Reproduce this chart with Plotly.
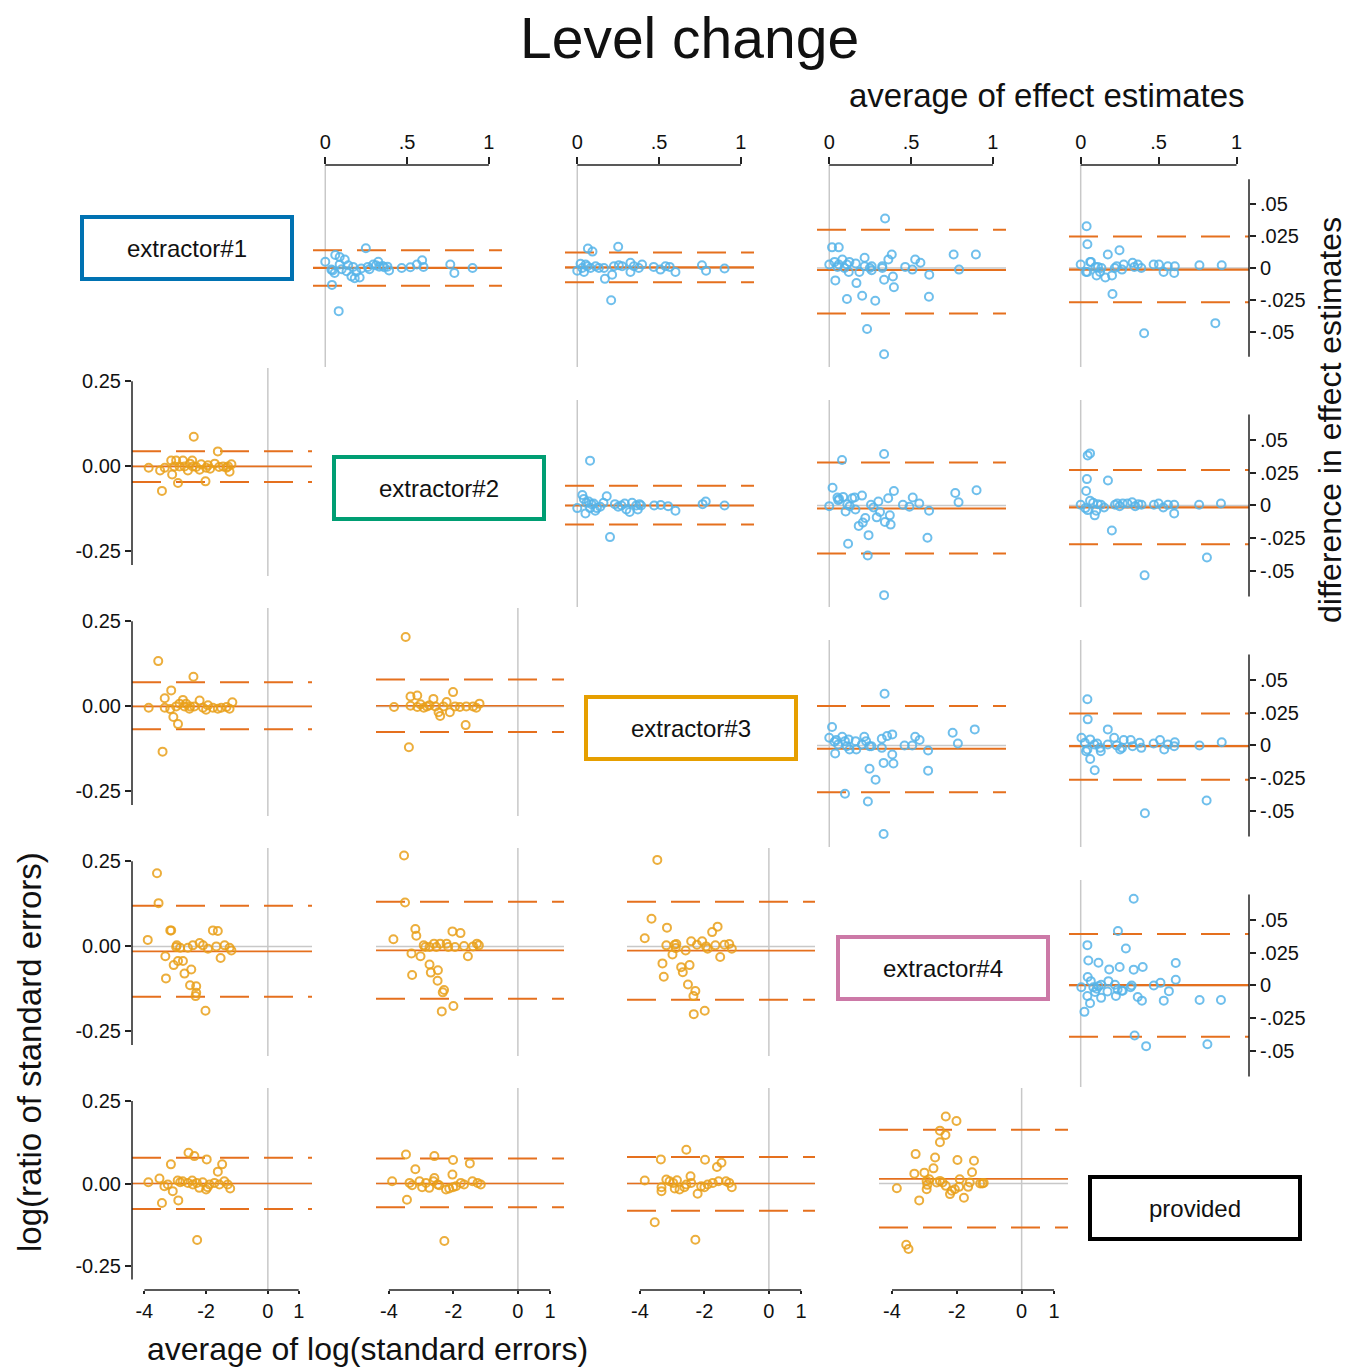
import plotly.graph_objects as go

W, H = 1349, 1369

# ---------------- data: upper panels (difference vs average of effect estimates) ----------------
U01 = [(0, .0048), (.037, -.0013), (.045, -.002), (.057, -.004), (.061, .010), (.088, .0085), (.119, .0066),
       (.088, .0026), (.10, -.001), (.17, .0008), (.16, -.0066), (.18, -.008), (.21, -.0074), (.19, -.003),
       (.22, -.0005), (.248, .0153), (.26, .0008), (.27, -.001), (.293, .0026), (.324, .0048), (.33, .001),
       (.35, .0015), (.38, .001), (.39, -.002), (.467, 0), (.52, .0005), (.56, .0026), (.592, .006), (.60, .0008),
       (.764, .0026), (.789, -.004), (.90, 0), (.041, -.0132), (.082, -.0336), (.13, -.0025), (.14, .002),
       (.31, .002), (.36, .0005)]
U01_LINES = [0.0, -0.0138, 0.0138]

U02 = [(.065, .0151), (.093, .0127), (.250, .0164), (.020, .0032), (.030, 0), (.041, -.0032), (.061, .0013),
       (.081, 0), (.112, .0013), (.132, 0), (.163, 0), (.169, -.0085), (.213, -.0053), (.207, -.0251),
       (.224, .0013), (.254, .0021), (.274, .0013), (.325, .004), (.325, -.0032), (.346, .0013), (.376, 0),
       (.396, .0026), (.467, .0008), (.508, -.0013), (.539, .0013), (.565, .0008), (.600, -.0032), (.762, .0021),
       (.787, -.0021), (.900, -.0005), (0, -.0021), (.051, .0026)]
U02_LINES = [0.0005, -0.0111, 0.0119]

U03 = [(0, .0026), (.017, .016), (.058, .016), (.032, .0047), (.037, -.0097), (.05, .0008), (.058, .0026),
       (.08, .0066), (.093, 0), (.108, .0026), (.119, -.0032), (.108, -.0242), (.123, .0047), (.162, .0034),
       (.166, -.0118), (.184, -.0032), (.201, -.0216), (.216, .0079), (.216, .0013), (.231, -.0474), (.248, 0),
       (.259, .0013), (.259, -.0018), (.281, -.0255), (.324, .0013), (.324, 0), (.335, -.0092), (.341, .0384),
       (.335, -.0671), (.361, .0066), (.382, .0105), (.389, -.0066), (.395, -.015), (.464, .0008), (.508, -.0013),
       (.525, .0066), (.557, .004), (.611, -.0053), (.609, -.0224), (.760, .0105), (.793, -.0013), (.896, .0105)]
U03_LINES = [-0.0016, -0.0355, 0.0297]

U04 = [(0, .0026), (.038, .0324), (.043, .0184), (.034, -.0032), (.043, -.0032), (.061, .0047), (.066, .0047),
       (.095, .0008), (.102, -.0058), (.111, .0008), (.124, -.0032), (.133, 0), (.158, -.0074), (.174, .0105),
       (.201, -.0058), (.204, -.0203), (.219, 0), (.231, .0013), (.249, .0137), (.265, -.0013), (.276, .0026),
       (.333, .004), (.344, .0008), (.367, .0026), (.389, 0), (.468, .0026), (.502, .0026), (.532, -.0032),
       (.559, .0013), (.604, .0013), (.600, -.004), (.762, .0021), (.905, .0021), (.407, -.0508), (.864, -.0429)]
U04_LINES = [-0.0013, -0.0266, 0.0245]

U12 = [(.078, .034), (0, -.002), (.031, .008), (.04, .005), (.056, .002), (.07, .003), (.078, -.002),
       (.087, .001), (.10, .0015), (.11, -.004), (.12, -.002), (.18, .007), (.2, -.024), (.23, .001),
       (.25, -.001), (.27, 0), (.29, .0015), (.30, -.003), (.32, -.005), (.335, .002), (.36, 0), (.37, -.003),
       (.38, .001), (.39, 0), (.47, 0), (.51, .0003), (.555, -.0005), (.60, -.004), (.766, .001), (.785, .003),
       (.90, 0), (.05, -.006), (.14, -.001), (.16, .002)]
U12_LINES = [0.0, -0.0145, 0.015]

U13 = [(0, -.0005), (.02, .0135), (.05, .006), (.055, .004), (.06, .005), (.078, .0345), (.085, .0065),
       (.10, -.0045), (.11, .001), (.115, -.029), (.125, -.0005), (.14, .0055), (.155, .006), (.16, -.003),
       (.18, -.0155), (.2, .0075), (.205, -.013), (.22, -.0095), (.235, -.038), (.24, -.0225), (.255, .0005),
       (.27, -.0015), (.29, -.009), (.3, .003), (.31, -.005), (.335, .039), (.335, -.068), (.34, -.0125),
       (.36, .0055), (.37, -.0075), (.375, -.0145), (.395, .011), (.45, .0005), (.49, -.001), (.51, .006),
       (.55, .0015), (.61, -.004), (.6, -.0245), (.77, .0095), (.79, .0025), (.9, .0115)]
U13_LINES = [-0.0023, -0.0364, 0.0326]

U14 = [(0, .0005), (.045, .038), (.06, .0395), (.04, .02), (.035, .011), (.03, -.002), (.045, -.0035),
       (.06, .0035), (.08, .002), (.09, -.0075), (.1, -.004), (.11, .001), (.13, .0005), (.15, -.0015),
       (.175, .019), (.2, -.019), (.22, .0005), (.235, .0015), (.25, -.0005), (.27, .0015), (.3, .0015),
       (.33, .0025), (.35, -.0005), (.37, .001), (.39, .0005), (.41, -.053), (.47, .0005), (.5, .0015),
       (.53, -.0015), (.56, .0005), (.6, -.006), (.6, .0005), (.76, .0005), (.81, -.0395), (.9, .0015)]
U14_LINES = [-0.0015, -0.0295, 0.027]

U23 = [(.338, .0392), (.017, .014), (0, .0059), (.032, .0028), (.043, .0041), (.054, .0008), (.036, -.0061),
       (.079, .0066), (.096, .0033), (.107, -.0005), (.118, .0046), (.124, -.0031), (.161, .0033),
       (.165, -.0031), (.199, .0008), (.214, .0066), (.225, .0033), (.246, -.0005), (.257, -.0005),
       (.246, -.0176), (.283, -.026), (.236, -.0425), (.096, -.0366), (.321, -.0018), (.332, -.0132),
       (.321, .0051), (.353, .0071), (.385, .0084), (.385, -.0069), (.392, -.0137), (.46, 0), (.507, 0),
       (.525, .0066), (.552, .0041), (.604, -.0038), (.604, -.0191), (.754, .0097), (.786, .0015),
       (.889, .0122), (.332, -.0672)]
U23_LINES = [-0.0025, -0.0354, 0.030]

U24 = [(.043, .0351), (.045, .0198), (.005, .0059), (.027, .002), (.061, .0046), (.034, -.0043),
       (.043, -.0031), (.061, -.0102), (.09, -.0188), (.088, .0008), (.106, .0015), (.124, -.0018),
       (.129, -.0043), (.174, .0122), (.174, .0008), (.215, .0059), (.231, 0), (.253, -.0031), (.265, -.0018),
       (.276, .0041), (.321, .0041), (.333, -.0005), (.378, .002), (.389, -.0018), (.468, .0015), (.509, .0041),
       (.536, -.0031), (.559, .0008), (.6, -.0005), (.604, .0025), (.762, 0), (.905, .0025), (.412, -.0514),
       (.808, -.0417)]
U24_LINES = [-0.0005, -0.026, 0.0242]

U34 = [(.34, .0658), (.239, .0413), (.043, .0306), (.29, .028), (.049, .0189), (.114, .0173), (.183, .0122),
       (.25, .014), (.34, .012), (.398, .014), (.61, .017), (.045, .0064), (.065, .0033), (.61, .0043),
       (.512, .002), (.469, 0), (.004, -.0013), (.092, -.005), (.114, -.0005), (.131, .0005), (.178, .0033),
       (.22, .0005), (.237, -.003), (.172, -.0046), (.131, -.0094), (.043, -.008), (.06, -.0135), (.024, -.02),
       (.226, -.008), (.264, -.004), (.27, -.004), (.32, -.0013), (.327, 0), (.366, -.0087), (.393, -.0115),
       (.533, -.0115), (.566, -.0043), (.763, -.011), (.9, -.011), (.346, -.038), (.42, -.046), (.813, -.0446),
       (.081, -.0013), (.103, -.0025)]
U34_LINES = [0.0003, -0.0388, 0.039]

# ---------------- data: lower panels (log ratio vs average of log standard errors) ----------------
L10 = [(-2.40, .087), (-1.62, .044), (-3.86, -.004), (-3.49, -.012), (-3.43, -.072), (-3.34, -.004),
       (-3.13, .017), (-3.10, -.024), (-2.97, .017), (-2.91, -.049), (-2.86, 0), (-2.75, .017), (-2.70, 0),
       (-2.59, -.012), (-2.45, .017), (-2.43, 0), (-2.32, -.002), (-2.16, .006), (-2.02, -.044), (-2.0, -.004),
       (-1.94, .003), (-1.87, -.007), (-1.72, .008), (-1.58, -.002), (-1.45, 0), (-1.34, -.004), (-1.24, -.016),
       (-1.18, .006), (-1.29, 0), (-3.03, 0), (-2.52, .008), (-2.21, -.01)]
L10_LINES = [0.0, -0.0456, 0.0447]

L20 = [(-3.55, .133), (-3.41, -.133), (-3.86, -.004), (-3.34, .024), (-3.13, .047), (-3.34, -.004),
       (-3.16, -.008), (-3.06, -.031), (-2.91, -.052), (-2.97, 0), (-2.86, .008), (-2.75, .019), (-2.65, .008),
       (-2.54, -.007), (-2.41, .087), (-2.38, 0), (-2.21, .017), (-2.10, -.004), (-2.0, -.01), (-1.94, .003),
       (-1.78, -.004), (-1.62, -.007), (-1.51, -.004), (-1.34, -.002), (-1.24, -.007), (-1.15, .012),
       (-2.52, 0), (-2.70, 0)]
L20_LINES = [0.0, -0.067, 0.071]

L21 = [(-3.48, .204), (-3.38, -.120), (-3.84, -.002), (-3.33, .029), (-3.12, .032), (-3.33, .002),
       (-3.12, -.002), (-2.92, -.004), (-2.82, 0), (-2.62, .022), (-2.56, 0), (-2.46, -.017), (-2.41, -.028),
       (-2.21, .013), (-2.11, -.017), (-2.01, .042), (-1.95, 0), (-1.80, -.002), (-1.62, -.055), (-1.60, 0),
       (-1.39, 0), (-1.19, .008), (-1.29, -.004), (-2.74, .003), (-2.31, 0), (-3.02, .006)]
L21_LINES = [0.002, -0.075, 0.079]

L30 = [(-3.59, .215), (-3.54, .127), (-3.89, .019), (-3.32, -.029), (-3.30, -.094), (-3.16, .047),
       (-3.13, .047), (-3.05, -.055), (-2.95, .003), (-2.91, -.043), (-2.75, -.043), (-2.70, -.080),
       (-2.59, -.004), (-2.48, -.068), (-2.52, -.114), (-2.43, .003), (-2.32, -.117), (-2.32, -.136),
       (-2.34, -.146), (-2.21, .010), (-2.10, .003), (-2.02, -.189), (-1.94, -.007), (-1.78, .047),
       (-1.62, .045), (-1.67, 0), (-1.53, -.034), (-1.40, .003), (-1.24, -.004), (-1.18, -.012), (-2.97, -.002),
       (-2.84, -.004)]
L30_LINES = [-0.0146, -0.148, 0.119]

L31 = [(-3.53, .267), (-3.50, .129), (-3.86, .021), (-3.18, .051), (-3.15, .031), (-3.30, -.021),
       (-3.28, -.084), (-3.02, -.029), (-2.92, .003), (-2.87, -.002), (-2.74, -.053), (-2.70, -.077),
       (-2.60, .008), (-2.53, -.002), (-2.48, -.07), (-2.49, -.101), (-2.41, .008), (-2.33, -.135),
       (-2.29, -.128), (-2.36, -.191), (-2.21, .008), (-2.03, .044), (-2.0, -.175), (-1.95, -.002),
       (-1.78, .039), (-1.67, .001), (-1.55, -.029), (-1.39, 0), (-1.27, .008), (-1.21, .003), (-2.74, -.002),
       (-2.16, -.002)]
L31_LINES = [-0.0117, -0.154, 0.131]

L32 = [(-3.46, .254), (-3.64, .081), (-3.16, .055), (-3.85, .024), (-3.18, .003), (-3.30, -.05),
       (-3.26, -.089), (-2.99, -.024), (-2.92, .005), (-2.87, .007), (-2.89, -.005), (-2.72, -.061),
       (-2.67, -.076), (-2.58, -.012), (-2.51, -.112), (-2.46, -.055), (-2.41, .015), (-2.34, -.146),
       (-2.28, -.131), (-2.33, -.199), (-2.23, .005), (-2.07, .015), (-1.99, -.189), (-1.95, 0), (-1.90, -.007),
       (-1.76, .042), (-1.59, .058), (-1.66, .003), (-1.51, -.031), (-1.38, .005), (-1.23, .007), (-1.15, -.007)]
L32_LINES = [-0.0126, -0.157, 0.131]

L40 = [(-2.57, .093), (-2.38, .083), (-1.98, .073), (-3.14, .058), (-1.48, .058), (-1.62, .036),
       (-3.87, .004), (-3.51, .015), (-3.43, -.059), (-3.35, -.008), (-3.08, -.023), (-2.92, .009),
       (-2.90, -.051), (-2.84, .004), (-2.76, .007), (-2.59, .002), (-2.45, .009), (-2.43, -.003), (-2.30, .002),
       (-2.22, -.013), (-2.11, .004), (-2.0, -.018), (-1.95, -.011), (-1.89, -.003), (-1.73, .002),
       (-1.57, -.003), (-1.41, .007), (-1.30, -.003), (-1.22, -.015), (-2.29, -.171), (-3.24, -.003)]
L40_LINES = [0.0, -0.077, 0.078]

L41 = [(-3.47, .088), (-2.59, .083), (-2.01, .071), (-1.49, .061), (-3.18, .043), (-2.03, .027),
       (-3.90, .007), (-3.44, -.049), (-3.36, .002), (-3.28, -.005), (-3.05, .007), (-2.97, -.011),
       (-2.85, .002), (-2.75, -.013), (-2.62, .007), (-2.59, .017), (-2.49, -.003), (-2.44, -.005),
       (-2.23, -.018), (-2.13, -.015), (-2.01, -.011), (-1.92, -.008), (-1.77, .002), (-1.67, -.003),
       (-1.41, .007), (-1.25, .002), (-1.15, -.003), (-2.28, -.174)]
L41_LINES = [0.0, -0.072, 0.076]

L42 = [(-2.56, .102), (-3.35, .073), (-1.98, .072), (-1.47, .063), (-1.61, .050), (-3.85, .009),
       (-3.54, -.117), (-2.28, -.170), (-3.33, -.011), (-3.33, -.023), (-3.18, .012), (-3.08, .007),
       (-2.97, .002), (-2.92, -.015), (-2.85, .010), (-2.77, -.018), (-2.62, -.011), (-2.56, -.003),
       (-2.43, .022), (-2.41, .002), (-2.21, -.031), (-2.10, -.008), (-2.0, -.011), (-1.90, -.003),
       (-1.74, .002), (-1.56, .007), (-1.33, .007), (-1.23, .002), (-1.15, -.011)]
L42_LINES = [0.0, -0.082, 0.080]

L43 = [(-2.34, .203), (-2.01, .189), (-2.52, .160), (-2.35, .147), (-2.52, .125), (-3.27, .089),
       (-2.67, .079), (-1.98, .071), (-1.47, .069), (-2.72, .046), (-1.53, .034), (-3.31, .030), (-3.0, .033),
       (-3.85, -.014), (-3.16, -.051), (-3.56, -.185), (-3.49, -.198), (-2.93, .008), (-2.91, -.004),
       (-2.93, -.017), (-2.85, .013), (-2.62, .003), (-2.52, .008), (-2.44, .003), (-2.34, -.007),
       (-2.21, -.032), (-2.16, -.022), (-2.06, -.017), (-1.93, -.01), (-1.91, .013), (-1.78, -.043),
       (-1.65, -.01), (-1.60, .003), (-1.28, 0), (-1.21, 0), (-1.17, .002)]
L43_LINES = [0.014, -0.133, 0.163]

# labels / ticks
DIAG_LABELS = ["extractor#1", "extractor#2", "extractor#3", "extractor#4", "provided"]
DIAG_COLORS = ["#0072B2", "#009E73", "#E69F00", "#CC79A7", "#000000"]
TOP_TICKS = [0, 0.5, 1]
TOP_TICKTEXT = ["0", ".5", "1"]
RIGHT_TICKS = [0.05, 0.025, 0, -0.025, -0.05]
RIGHT_TICKTEXT = [".05", ".025", "0", "-.025", "-.05"]
LEFT_TICKS = [0.25, 0, -0.25]
LEFT_TICKTEXT = ["0.25", "0.00", "-0.25"]
BOTTOM_TICKS = [-4, -2, 0, 1]
BOTTOM_TICKTEXT = ["-4", "-2", "0", "1"]

UPPER = {(0, 1): (U01, U01_LINES), (0, 2): (U02, U02_LINES), (0, 3): (U03, U03_LINES), (0, 4): (U04, U04_LINES),
         (1, 2): (U12, U12_LINES), (1, 3): (U13, U13_LINES), (1, 4): (U14, U14_LINES),
         (2, 3): (U23, U23_LINES), (2, 4): (U24, U24_LINES), (3, 4): (U34, U34_LINES)}
LOWER = {(1, 0): (L10, L10_LINES), (2, 0): (L20, L20_LINES), (2, 1): (L21, L21_LINES),
         (3, 0): (L30, L30_LINES), (3, 1): (L31, L31_LINES), (3, 2): (L32, L32_LINES),
         (4, 0): (L40, L40_LINES), (4, 1): (L41, L41_LINES), (4, 2): (L42, L42_LINES), (4, 3): (L43, L43_LINES)}

# ---------------- layout geometry (pixels) ----------------
LOW_COLS = {0: (132, 312), 1: (376, 564), 2: (627, 815), 3: (879, 1068)}
LOW_ROWS = {1: (368, 576), 2: (608, 816), 3: (848, 1056), 4: (1088, 1290)}
UP_COLS = {1: (313, 502), 2: (565, 754), 3: (817, 1006), 4: (1069, 1249)}
UP_ROWS = {0: (165, 367), 1: (400, 607), 2: (640, 847), 3: (880, 1087)}
UP_XR = [-0.075, 1.08]
UP_YR = [-0.077, 0.080]
LO_XR = [-4.4, 1.43]
LO_YR = [-0.322, 0.289]

BLUE = "#56B4E9"
OPT = "#E9A01A"
LINE = "#E5701E"
GRAY = "#C8C8C8"
AXC = "#222222"
FONT = "Liberation Sans, Arial, sans-serif"


def fx(p):
    return p / W


def fy(p):
    return 1 - p / H


fig = go.Figure()
layout = dict(width=W, height=H, margin=dict(l=0, r=0, t=0, b=0), paper_bgcolor="white",
              plot_bgcolor="white", showlegend=False, font=dict(family=FONT, color="#111"))
shapes = []
annotations = []

k = 0
panels = [("u", key, val) for key, val in UPPER.items()] + [("l", key, val) for key, val in LOWER.items()]
for kind, (r, c), (pts, lines) in panels:
    k += 1
    xn = "x" if k == 1 else f"x{k}"
    yn = "y" if k == 1 else f"y{k}"
    xa = "xaxis" if k == 1 else f"xaxis{k}"
    ya = "yaxis" if k == 1 else f"yaxis{k}"
    if kind == "u":
        cx, ry, xr, yr, col = UP_COLS[c], UP_ROWS[r], UP_XR, UP_YR, BLUE
    else:
        cx, ry, xr, yr, col = LOW_COLS[c], LOW_ROWS[r], LO_XR, LO_YR, OPT
    xax = dict(domain=[fx(cx[0]), fx(cx[1])], range=xr, anchor=yn, showgrid=False, zeroline=False,
               showline=False, ticks="", showticklabels=False, fixedrange=True)
    yax = dict(domain=[fy(ry[1]), fy(ry[0])], range=yr, anchor=xn, showgrid=False, zeroline=False,
               showline=False, ticks="", showticklabels=False, fixedrange=True)
    tick_common = dict(ticks="outside", tickwidth=1.5, tickcolor=AXC, showticklabels=True,
                       tickfont=dict(size=20, family=FONT, color="#111"))
    if kind == "u" and r == 0:
        xax.update(side="top", tickvals=TOP_TICKS, ticktext=TOP_TICKTEXT, ticklen=7, **tick_common)
        shapes.append(dict(type="line", xref=xn, yref=f"{yn} domain", x0=0, x1=1, y0=1, y1=1,
                           line=dict(color=AXC, width=1.5)))
    if kind == "u" and c == 4:
        yax.update(side="right", tickvals=RIGHT_TICKS, ticktext=RIGHT_TICKTEXT, ticklen=6, **tick_common)
        shapes.append(dict(type="line", xref=f"{xn} domain", yref=yn, x0=1, x1=1, y0=-0.069, y1=0.069,
                           line=dict(color=AXC, width=1.5)))
    if kind == "l" and c == 0:
        yax.update(side="left", tickvals=LEFT_TICKS, ticktext=LEFT_TICKTEXT, ticklen=6, **tick_common)
        shapes.append(dict(type="line", xref=f"{xn} domain", yref=yn, x0=0, x1=0, y0=-0.29, y1=0.25,
                           line=dict(color=AXC, width=1.5)))
    if kind == "l" and r == 4:
        xax.update(side="bottom", tickvals=BOTTOM_TICKS, ticktext=BOTTOM_TICKTEXT, ticklen=3, **tick_common)
        shapes.append(dict(type="line", xref=xn, yref=f"{yn} domain", x0=-4, x1=1, y0=0, y1=0,
                           line=dict(color=AXC, width=1.5)))
    layout[xa] = xax
    layout[ya] = yax

    # reference lines (zero lines, mean, limits of agreement)
    shapes.append(dict(type="line", xref=xn, yref=f"{yn} domain", x0=0, x1=0, y0=0, y1=1, layer="below",
                       line=dict(color=GRAY, width=1.5)))
    shapes.append(dict(type="line", xref=f"{xn} domain", yref=yn, x0=0, x1=1, y0=0, y1=0, layer="below",
                       line=dict(color=GRAY, width=1.5)))
    mean, lo, hi = lines
    lw = 2.2 if kind == "u" else 1.6
    shapes.append(dict(type="line", xref=f"{xn} domain", yref=yn, x0=0, x1=1, y0=mean, y1=mean, layer="below",
                       line=dict(color=LINE, width=lw)))
    for v in (lo, hi):
        shapes.append(dict(type="line", xref=f"{xn} domain", yref=yn, x0=0, x1=1, y0=v, y1=v, layer="below",
                           line=dict(color=LINE, width=2, dash="29px,15px")))

    fig.add_trace(go.Scatter(x=[p[0] for p in pts], y=[p[1] for p in pts], mode="markers", xaxis=xn, yaxis=yn,
                             marker=dict(symbol="circle-open", size=8, color=col, opacity=0.85,
                                         line=dict(width=2, color=col)),
                             hoverinfo="x+y"))

# diagonal label boxes
for i, (lab, colr) in enumerate(zip(DIAG_LABELS, DIAG_COLORS)):
    x0, x1 = 82 + 252 * i, 292 + 252 * i
    y0, y1 = 217 + 240 * i, 279 + 240 * i
    shapes.append(dict(type="rect", xref="paper", yref="paper", x0=fx(x0), x1=fx(x1), y0=fy(y1), y1=fy(y0),
                       line=dict(color=colr, width=4), fillcolor="white"))
    annotations.append(dict(text=lab, xref="paper", yref="paper", x=fx((x0 + x1) / 2), y=fy((y0 + y1) / 2),
                            xanchor="center", yanchor="middle", showarrow=False,
                            font=dict(size=24, family=FONT, color="#111")))

# titles
annotations += [
    dict(text="Level change", x=fx(689), y=fy(38), font=dict(size=57, family=FONT, color="#111")),
    dict(text="average of effect estimates", x=fx(1047), y=fy(95), font=dict(size=33, family=FONT, color="#111")),
    dict(text="difference in effect estimates", x=fx(1330), y=fy(420), textangle=-90,
         font=dict(size=32, family=FONT, color="#111")),
    dict(text="log(ratio of standard errors)", x=fx(29), y=fy(1052), textangle=-90,
         font=dict(size=33, family=FONT, color="#111")),
    dict(text="average of log(standard errors)", x=fx(368), y=fy(1349),
         font=dict(size=32, family=FONT, color="#111")),
]
for a in annotations[len(DIAG_LABELS):]:
    a.update(xref="paper", yref="paper", xanchor="center", yanchor="middle", showarrow=False)

layout["shapes"] = shapes
layout["annotations"] = annotations
fig.update_layout(**layout)
fig.write_html("out.html", config={"displayModeBar": False},
               post_script="document.body.style.margin='0';")
